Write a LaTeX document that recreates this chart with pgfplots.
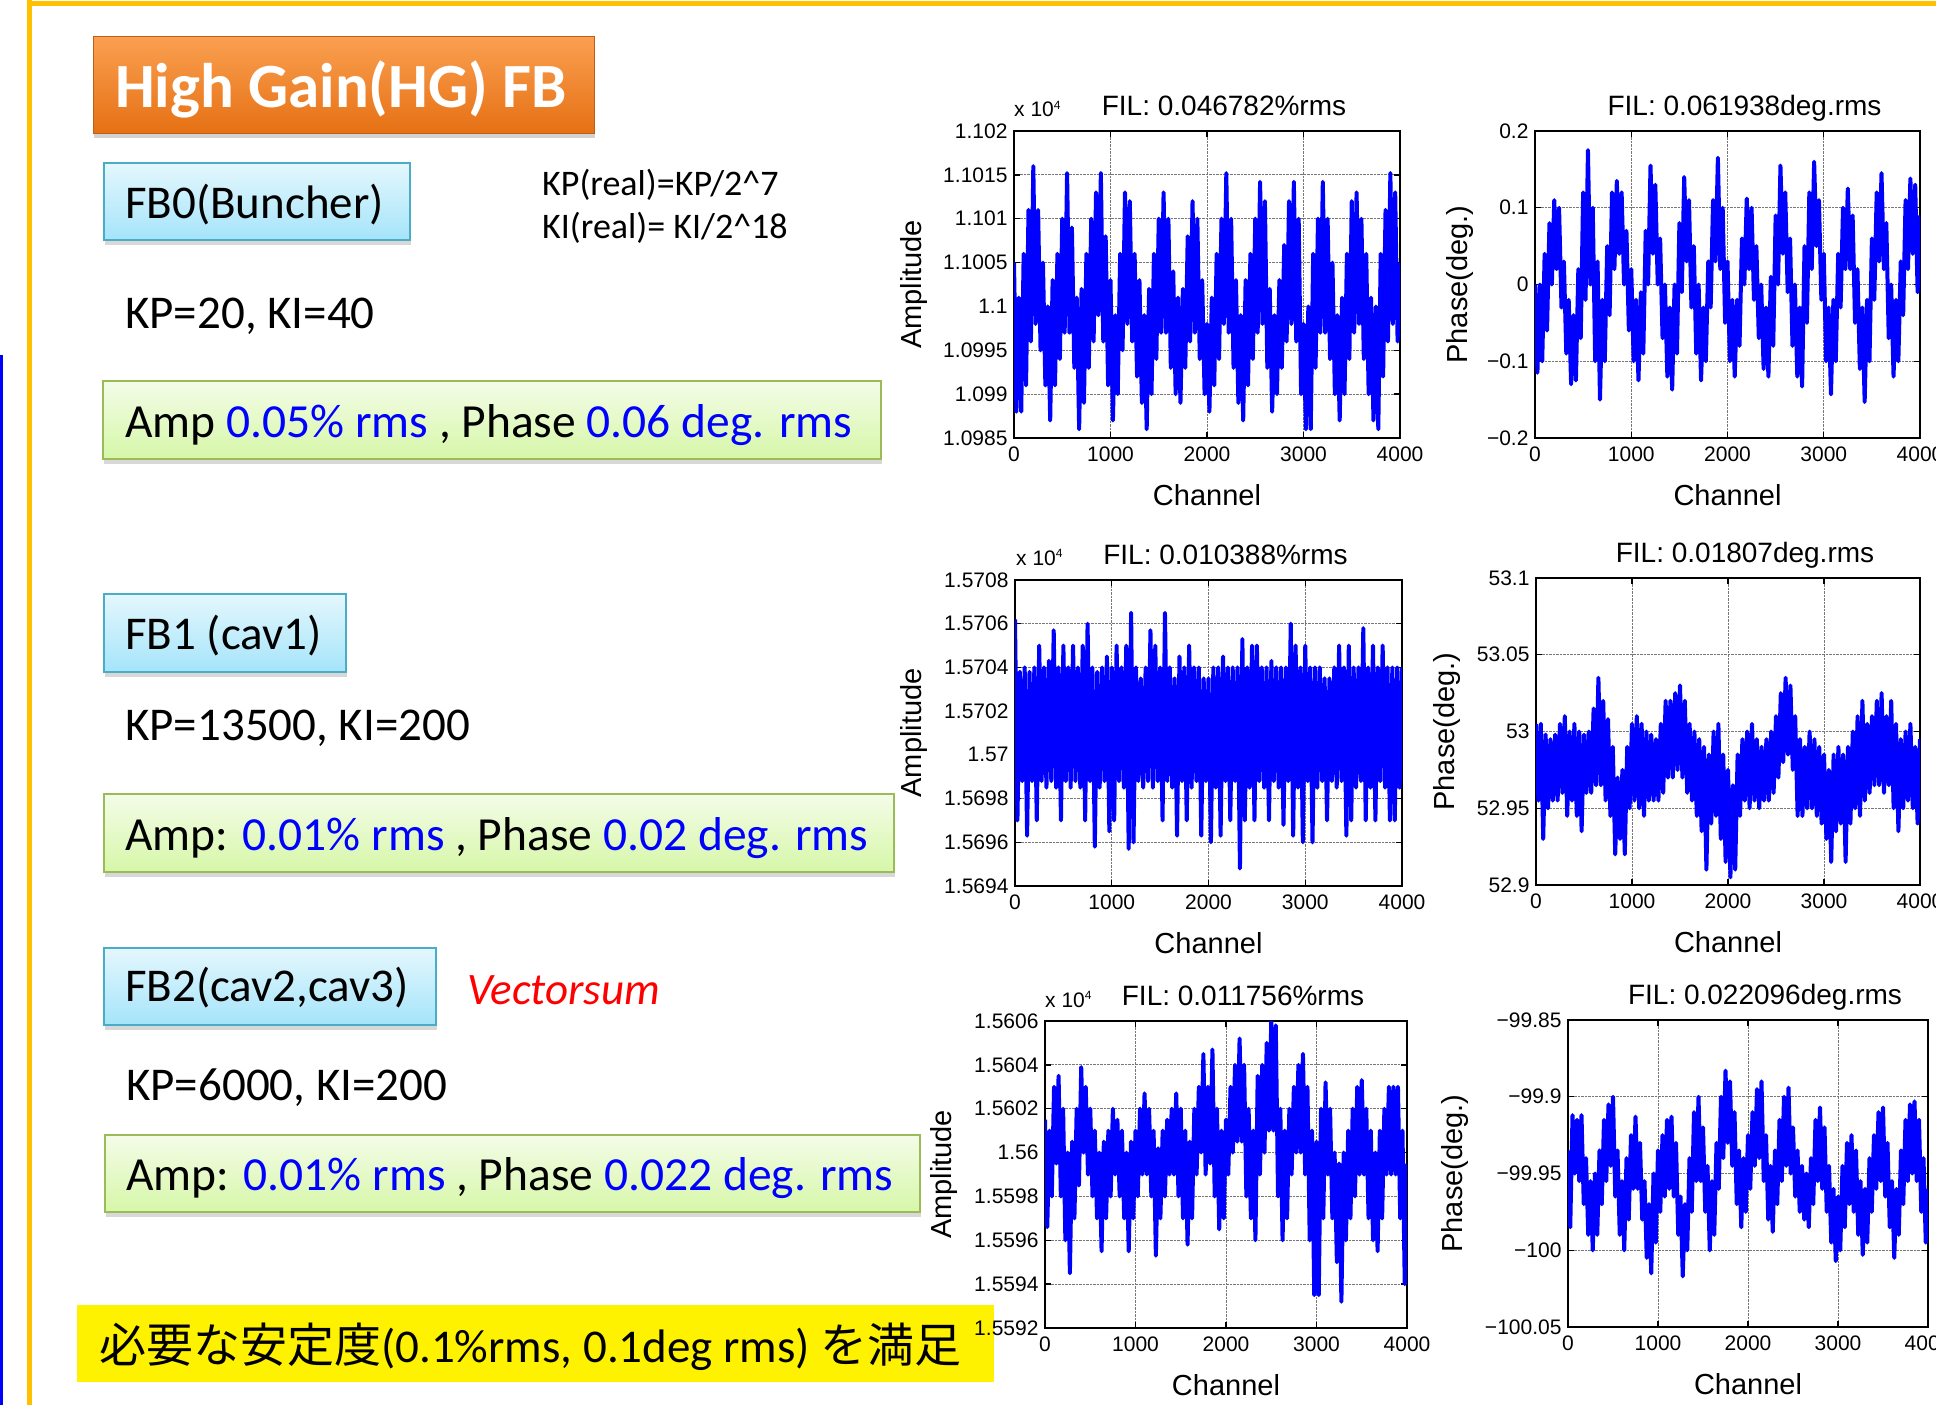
\documentclass[border=0pt]{standalone}
\usepackage{pgfplots}
\pgfplotsset{compat=1.18}
\usepackage{fontspec}
\setmainfont{Carlito}
\newfontfamily\arialf{Liberation Sans}
\newfontfamily\jpf{Noto Sans CJK JP}
\usetikzlibrary{shadows}
\definecolor{frameorange}{RGB}{255,192,0}
\definecolor{ttop}{RGB}{250,160,80}
\definecolor{tbot}{RGB}{230,112,20}
\definecolor{tborder}{RGB}{190,95,25}
\definecolor{ctop}{RGB}{228,247,253}
\definecolor{cbot}{RGB}{165,228,250}
\definecolor{cborder}{RGB}{75,172,198}
\definecolor{gtop}{RGB}{244,252,232}
\definecolor{gbot}{RGB}{214,247,168}
\definecolor{gborder}{RGB}{155,187,89}
\definecolor{valblue}{RGB}{0,0,255}
\definecolor{gridgray}{RGB}{120,120,120}
\newcommand{\tickf}{\arialf\fontsize{21}{25}\selectfont}
\newcommand{\labf}{\arialf\fontsize{29}{33}\selectfont}
\newcommand{\titf}{\arialf\fontsize{28}{32}\selectfont}
\pgfplotsset{
  sig/.style={color=valblue, line width=4pt, line join=round, line cap=butt, mark=none},
  mat/.style={
    scale only axis, anchor=north west,
    xmin=0, xmax=4000, xtick={0,1000,2000,3000,4000},
    xticklabels={0,1000,2000,3000,4000},
    axis line style={line width=1.8pt},
    every tick/.style={black, line width=1.4pt},
    major tick length=6pt,
    tick align=inside,
    xmajorgrids, ymajorgrids,
    major grid style={densely dotted, gridgray, line width=0.9pt},
    ticklabel style={font=\tickf},
    xticklabel style={yshift=-5pt},
    yticklabel style={xshift=-3pt},
    xlabel={Channel},
    label style={font=\labf},
    xlabel style={at={(axis description cs:0.5,0)}, anchor=base, yshift=-67pt},
    every axis title/.style={font=\titf, at={(axis description cs:0.5,1)}, anchor=base, yshift=16pt, xshift=17pt},
    no markers,
  }
}
\begin{document}
\begin{tikzpicture}
\useasboundingbox (0pt,0pt) rectangle (1936pt,-1405pt);
\begin{scope}[x=1pt,y=-1pt]
\fill[white] (0,0) rectangle (1936,1405);
\fill[frameorange] (27,0) rectangle (32,1405);
\fill[frameorange] (27,1) rectangle (1936,6);
\fill[valblue] (0,355) rectangle (3,1405);
% title box
\path[drop shadow={shadow xshift=1pt, shadow yshift=-5pt, opacity=0.35}, top color=ttop, bottom color=tbot, draw=tborder, line width=1pt] (93,37) rectangle (594,133);
\node[anchor=base west, text=white, font=\bfseries\fontsize{63}{63}\selectfont, inner sep=0pt] at (115,107) {High Gain(HG) FB};
% cyan boxes
\path[drop shadow={shadow xshift=1pt, shadow yshift=-5pt, opacity=0.3}, top color=ctop, bottom color=cbot, draw=cborder, line width=1.5pt] (104,163) rectangle (410,240);
\node[anchor=base west, font=\fontsize{47}{47}\selectfont, inner sep=0pt] at (125,218) {FB0(Buncher)};
\path[drop shadow={shadow xshift=1pt, shadow yshift=-5pt, opacity=0.3}, top color=ctop, bottom color=cbot, draw=cborder, line width=1.5pt] (104,594) rectangle (346,672);
\node[anchor=base west, font=\fontsize{47}{47}\selectfont, inner sep=0pt] at (125,649) {FB1 (cav1)};
\path[drop shadow={shadow xshift=1pt, shadow yshift=-5pt, opacity=0.3}, top color=ctop, bottom color=cbot, draw=cborder, line width=1.5pt] (104,948) rectangle (436,1025);
\node[anchor=base west, font=\fontsize{47}{47}\selectfont, inner sep=0pt] at (125,1001) {FB2(cav2,cav3)};
% KP texts
\node[anchor=base west, font=\fontsize{36}{36}\selectfont, inner sep=0pt] at (542,195) {KP(real)=KP/2\^{}7};
\node[anchor=base west, font=\fontsize{36}{36}\selectfont, inner sep=0pt] at (542,238) {KI(real)= KI/2\^{}18};
\node[anchor=base west, font=\fontsize{47}{47}\selectfont, inner sep=0pt] at (125,328) {KP=20, KI=40};
\node[anchor=base west, font=\fontsize{47}{47}\selectfont, inner sep=0pt] at (125,740) {KP=13500, KI=200};
\node[anchor=base west, font=\fontsize{47}{47}\selectfont, inner sep=0pt] at (126,1100) {KP=6000, KI=200};
\node[anchor=base west, text=red, font=\itshape\fontsize{45}{45}\selectfont, inner sep=0pt] at (467,1004) {Vectorsum};
% green boxes
\path[drop shadow={shadow xshift=1pt, shadow yshift=-5pt, opacity=0.3}, top color=gtop, bottom color=gbot, draw=gborder, line width=1.5pt] (103,381) rectangle (881,459);
\node[anchor=base west, font=\fontsize{47.5}{47.5}\selectfont, inner sep=0pt] at (125,437) {Amp {\color{valblue}0.05\% rms} , Phase {\color{valblue}0.06 deg. rms}};
\path[drop shadow={shadow xshift=1pt, shadow yshift=-5pt, opacity=0.3}, top color=gtop, bottom color=gbot, draw=gborder, line width=1.5pt] (104,794) rectangle (894,872);
\node[anchor=base west, font=\fontsize{47.5}{47.5}\selectfont, inner sep=0pt] at (125,850) {Amp: {\color{valblue}0.01\% rms} , Phase {\color{valblue}0.02 deg. rms}};
\path[drop shadow={shadow xshift=1pt, shadow yshift=-5pt, opacity=0.3}, top color=gtop, bottom color=gbot, draw=gborder, line width=1.5pt] (105,1135) rectangle (920,1212);
\node[anchor=base west, font=\fontsize{47.5}{47.5}\selectfont, inner sep=0pt] at (126,1190) {Amp: {\color{valblue}0.01\% rms} , Phase {\color{valblue}0.022 deg. rms}};
% yellow box
\fill[yellow] (77,1305) rectangle (994,1382);
\node[anchor=base west, font=\fontsize{47}{47}\selectfont, inner sep=0pt] at (99,1362) {{\jpf 必要な安定度}(0.1\%rms, 0.1deg rms) {\jpf を満足}};
\end{scope}

% ---------- Plot 1 ----------
\begin{axis}[mat, name=p1, at={(1014pt,-131pt)}, width=386pt, height=307pt,
  ymin=1.0985, ymax=1.102,
  ytick={1.0985,1.099,1.0995,1.1,1.1005,1.101,1.1015,1.102},
  yticklabels={1.0985,1.099,1.0995,1.1,1.1005,1.101,1.1015,1.102},
  ylabel={Amplitude}, ylabel style={at={(axis description cs:-0.26,0.5)}, anchor=center},
  title={FIL: 0.046782\%rms}]
\addplot[sig] coordinates {(0,1.1005)(25,1.0988)(50,1.1001)(75,1.0988)(100,1.1006)(125,1.0991)(150,1.1011)(175,1.0996)(200,1.1016)(225,1.0998)(250,1.1011)(275,1.0995)(300,1.1005)(325,1.0991)(350,1.1000)(375,1.0987)(400,1.1003)(425,1.0991)(450,1.1006)(475,1.0994)(500,1.1010)(525,1.0997)(550,1.10152)(575,1.0997)(600,1.1009)(625,1.0993)(650,1.1001)(675,1.0986)(700,1.1002)(725,1.0989)(750,1.1006)(775,1.0993)(800,1.1010)(825,1.0996)(850,1.1013)(875,1.0999)(900,1.10152)(925,1.0996)(950,1.1008)(975,1.0991)(1000,1.1003)(1025,1.0987)(1050,1.0999)(1075,1.0990)(1100,1.1006)(1125,1.0995)(1150,1.1013)(1175,1.0998)(1200,1.1012)(1225,1.0996)(1250,1.1006)(1275,1.0992)(1300,1.1003)(1325,1.0989)(1350,1.0999)(1375,1.0986)(1400,1.1002)(1425,1.0990)(1450,1.1006)(1475,1.0994)(1500,1.1010)(1525,1.0997)(1550,1.1013)(1575,1.0997)(1600,1.1010)(1625,1.0993)(1650,1.1004)(1675,1.0990)(1700,1.1001)(1725,1.0989)(1750,1.1002)(1775,1.0993)(1800,1.1008)(1825,1.0996)(1850,1.1012)(1875,1.0997)(1900,1.1010)(1925,1.0994)(1950,1.1003)(1975,1.0990)(2000,1.0998)(2025,1.0988)(2050,1.1001)(2075,1.0991)(2100,1.1006)(2125,1.0994)(2150,1.1010)(2175,1.0998)(2200,1.10152)(2225,1.0997)(2250,1.1010)(2275,1.0993)(2300,1.1003)(2325,1.0989)(2350,1.0999)(2375,1.0987)(2400,1.1003)(2425,1.0991)(2450,1.1006)(2475,1.0994)(2500,1.1010)(2525,1.0997)(2550,1.10142)(2575,1.0998)(2600,1.1012)(2625,1.0993)(2650,1.1002)(2675,1.0988)(2700,1.0999)(2725,1.0990)(2750,1.1003)(2775,1.0993)(2800,1.1007)(2825,1.0996)(2850,1.1012)(2875,1.0998)(2900,1.10142)(2925,1.0996)(2950,1.1010)(2975,1.0990)(3000,1.0998)(3025,1.0986)(3050,1.1000)(3075,1.0986)(3100,1.1006)(3125,1.0993)(3150,1.1010)(3175,1.0997)(3200,1.10142)(3225,1.0997)(3250,1.1010)(3275,1.0994)(3300,1.1005)(3325,1.0990)(3350,1.0999)(3375,1.0987)(3400,1.1001)(3425,1.0990)(3450,1.1006)(3475,1.0994)(3500,1.1012)(3525,1.0997)(3550,1.1013)(3575,1.0998)(3600,1.1010)(3625,1.0994)(3650,1.1006)(3675,1.0990)(3700,1.1001)(3725,1.0987)(3750,1.1000)(3775,1.0986)(3800,1.1006)(3825,1.0992)(3850,1.1011)(3875,1.0996)(3900,1.10152)(3925,1.0998)(3950,1.1013)(3975,1.0996)(4000,1.1005)};
\end{axis}

% ---------- Plot 2 ----------
\begin{axis}[mat, name=p2, at={(1535pt,-131pt)}, width=385pt, height=307pt,
  ymin=-0.2, ymax=0.2,
  ytick={-0.2,-0.1,0,0.1,0.2},
  yticklabels={−0.2,−0.1,0,0.1,0.2},
  ylabel={Phase(deg.)}, ylabel style={at={(axis description cs:-0.195,0.5)}, anchor=center},
  title={FIL: 0.061938deg.rms}]
\addplot[sig] coordinates {(0,0.0)(25,-0.115)(50,0.0)(75,-0.10)(100,0.04)(125,-0.06)(150,0.08)(175,0.0)(200,0.11)(225,0.02)(250,0.10)(275,-0.03)(300,0.03)(325,-0.09)(350,-0.02)(375,-0.13)(400,-0.04)(425,-0.125)(450,0.02)(475,-0.07)(500,0.12)(525,-0.02)(550,0.175)(575,0.0)(600,0.10)(625,-0.10)(650,0.03)(675,-0.15)(700,-0.02)(725,-0.10)(750,0.05)(775,-0.04)(800,0.12)(825,0.02)(850,0.135)(875,0.04)(900,0.12)(925,0.0)(950,0.07)(975,-0.06)(1000,0.02)(1025,-0.10)(1050,-0.02)(1075,-0.125)(1100,-0.01)(1125,-0.09)(1150,0.07)(1175,0.0)(1200,0.155)(1225,0.04)(1250,0.13)(1275,0.0)(1300,0.06)(1325,-0.07)(1350,0.0)(1375,-0.12)(1400,-0.03)(1425,-0.137)(1450,0.0)(1475,-0.09)(1500,0.08)(1525,-0.01)(1550,0.14)(1575,0.03)(1600,0.11)(1625,-0.03)(1650,0.05)(1675,-0.09)(1700,0.0)(1725,-0.125)(1750,-0.03)(1775,-0.10)(1800,0.03)(1825,-0.03)(1850,0.11)(1875,0.03)(1900,0.165)(1925,0.02)(1950,0.10)(1975,-0.05)(2000,0.03)(2025,-0.10)(2050,-0.02)(2075,-0.12)(2100,-0.02)(2125,-0.08)(2150,0.06)(2175,0.0)(2200,0.112)(2225,0.02)(2250,0.10)(2275,-0.02)(2300,0.05)(2325,-0.07)(2350,0.0)(2375,-0.11)(2400,-0.03)(2425,-0.12)(2450,0.01)(2475,-0.08)(2500,0.09)(2525,0.0)(2550,0.155)(2575,0.04)(2600,0.12)(2625,-0.01)(2650,0.06)(2675,-0.08)(2700,0.0)(2725,-0.12)(2750,-0.03)(2775,-0.133)(2800,0.05)(2825,-0.05)(2850,0.12)(2875,0.02)(2900,0.16)(2925,0.05)(2950,0.11)(2975,-0.02)(3000,0.04)(3025,-0.10)(3050,-0.03)(3075,-0.143)(3100,-0.02)(3125,-0.10)(3150,0.04)(3175,-0.03)(3200,0.10)(3225,0.02)(3250,0.125)(3275,0.02)(3300,0.09)(3325,-0.05)(3350,0.02)(3375,-0.11)(3400,-0.03)(3425,-0.153)(3450,-0.02)(3475,-0.10)(3500,0.06)(3525,-0.02)(3550,0.12)(3575,0.03)(3600,0.145)(3625,0.02)(3650,0.08)(3675,-0.07)(3700,0.0)(3725,-0.12)(3750,-0.02)(3775,-0.10)(3800,0.03)(3825,-0.04)(3850,0.11)(3875,0.02)(3900,0.138)(3925,0.04)(3950,0.13)(3975,-0.01)(4000,0.09)};
\end{axis}

% ---------- Plot 3 ----------
\begin{axis}[mat, name=p3, at={(1015pt,-580pt)}, width=387pt, height=306pt,
  ymin=1.5694, ymax=1.5708,
  ytick={1.5694,1.5696,1.5698,1.57,1.5702,1.5704,1.5706,1.5708},
  yticklabels={1.5694,1.5696,1.5698,1.57,1.5702,1.5704,1.5706,1.5708},
  ylabel={Amplitude}, ylabel style={at={(axis description cs:-0.262,0.5)}, anchor=center},
  title={FIL: 0.010388\%rms}]
\addplot[sig] coordinates {(0,1.57062)(25,1.5697)(50,1.57038)(75,1.56988)(100,1.5704)(125,1.56963)(150,1.57038)(175,1.56988)(200,1.5704)(225,1.5697)(250,1.5705)(275,1.56988)(300,1.5704)(325,1.56985)(350,1.57043)(375,1.56988)(400,1.57057)(425,1.56985)(450,1.5704)(475,1.5697)(500,1.5705)(525,1.56988)(550,1.5704)(575,1.56985)(600,1.5705)(625,1.56988)(650,1.5704)(675,1.56985)(700,1.5705)(725,1.5697)(750,1.5706)(775,1.56988)(800,1.5704)(825,1.56958)(850,1.57038)(875,1.56985)(900,1.5704)(925,1.56988)(950,1.57045)(975,1.56965)(1000,1.5704)(1025,1.5697)(1050,1.5705)(1075,1.56988)(1100,1.5704)(1125,1.56985)(1150,1.5705)(1175,1.56957)(1200,1.57065)(1225,1.5696)(1250,1.5704)(1275,1.56988)(1300,1.57035)(1325,1.56985)(1350,1.5704)(1375,1.56988)(1400,1.57057)(1425,1.56985)(1450,1.5705)(1475,1.56988)(1500,1.5704)(1525,1.5697)(1550,1.57065)(1575,1.56988)(1600,1.5704)(1625,1.56985)(1650,1.57035)(1675,1.56963)(1700,1.57045)(1725,1.56988)(1750,1.5704)(1775,1.5697)(1800,1.5705)(1825,1.56985)(1850,1.5704)(1875,1.56988)(1900,1.5704)(1925,1.56963)(1950,1.57035)(1975,1.56988)(2000,1.57035)(2025,1.5696)(2050,1.5704)(2075,1.56985)(2100,1.5704)(2125,1.56963)(2150,1.57045)(2175,1.56988)(2200,1.5704)(2225,1.5697)(2250,1.5704)(2275,1.56988)(2300,1.5704)(2325,1.56948)(2350,1.57053)(2375,1.5697)(2400,1.5704)(2425,1.56985)(2450,1.5705)(2475,1.5697)(2500,1.5705)(2525,1.56988)(2550,1.5704)(2575,1.56985)(2600,1.5704)(2625,1.5697)(2650,1.57043)(2675,1.56988)(2700,1.5704)(2725,1.56985)(2750,1.5704)(2775,1.56968)(2800,1.5704)(2825,1.56988)(2850,1.5706)(2875,1.56963)(2900,1.5705)(2925,1.56985)(2950,1.5704)(2975,1.5696)(3000,1.5705)(3025,1.56988)(3050,1.5704)(3075,1.5696)(3100,1.5704)(3125,1.56985)(3150,1.5704)(3175,1.56988)(3200,1.57035)(3225,1.5697)(3250,1.57035)(3275,1.56988)(3300,1.5704)(3325,1.56985)(3350,1.5705)(3375,1.56988)(3400,1.5704)(3425,1.56963)(3450,1.5705)(3475,1.5697)(3500,1.5704)(3525,1.56985)(3550,1.5704)(3575,1.56988)(3600,1.57058)(3625,1.5697)(3650,1.5704)(3675,1.56985)(3700,1.5705)(3725,1.5697)(3750,1.5704)(3775,1.56988)(3800,1.5705)(3825,1.56985)(3850,1.5704)(3875,1.5697)(3900,1.5704)(3925,1.5697)(3950,1.5704)(3975,1.56985)(4000,1.5704)};
\end{axis}

% ---------- Plot 4 ----------
\begin{axis}[mat, name=p4, at={(1536pt,-578pt)}, width=384pt, height=307pt,
  ymin=52.9, ymax=53.1,
  ytick={52.9,52.95,53,53.05,53.1},
  yticklabels={52.9,52.95,53,53.05,53.1},
  ylabel={Phase(deg.)}, ylabel style={at={(axis description cs:-0.232,0.5)}, anchor=center},
  title={FIL: 0.01807deg.rms}]
\addplot[sig] coordinates {(0,53.005)(25,52.955)(50,53.005)(75,52.93)(100,52.998)(125,52.95)(150,52.995)(175,52.955)(200,52.998)(225,52.955)(250,53.005)(275,52.96)(300,53.01)(325,52.945)(350,53.0)(375,52.955)(400,53.005)(425,52.945)(450,53.0)(475,52.935)(500,52.998)(525,52.96)(550,53.0)(575,52.96)(600,53.015)(625,52.965)(650,53.035)(675,52.965)(700,53.02)(725,52.955)(750,53.008)(775,52.945)(800,52.99)(825,52.92)(850,52.97)(875,52.93)(900,52.975)(925,52.92)(950,52.99)(975,52.95)(1000,53.005)(1025,52.955)(1050,53.01)(1075,52.95)(1100,53.005)(1125,52.945)(1150,53.0)(1175,52.955)(1200,52.998)(1225,52.955)(1250,52.995)(1275,52.955)(1300,53.005)(1325,52.96)(1350,53.02)(1375,52.97)(1400,53.02)(1425,52.97)(1450,53.025)(1475,52.975)(1500,53.03)(1525,52.97)(1550,53.02)(1575,52.96)(1600,53.005)(1625,52.955)(1650,53.0)(1675,52.945)(1700,52.995)(1725,52.935)(1750,52.99)(1775,52.91)(1800,52.985)(1825,52.94)(1850,53.0)(1875,52.945)(1900,53.005)(1925,52.93)(1950,52.985)(1975,52.915)(2000,52.975)(2025,52.905)(2050,52.965)(2075,52.91)(2100,52.985)(2125,52.945)(2150,52.995)(2175,52.955)(2200,53.0)(2225,52.95)(2250,53.005)(2275,52.955)(2300,52.995)(2325,52.95)(2350,52.99)(2375,52.955)(2400,52.995)(2425,52.955)(2450,53.0)(2475,52.96)(2500,53.01)(2525,52.97)(2550,53.025)(2575,52.98)(2600,53.035)(2625,52.985)(2650,53.03)(2675,52.975)(2700,53.01)(2725,52.945)(2750,52.995)(2775,52.945)(2800,52.99)(2825,52.95)(2850,53.0)(2875,52.95)(2900,52.995)(2925,52.945)(2950,52.99)(2975,52.94)(3000,52.985)(3025,52.93)(3050,52.975)(3075,52.915)(3100,52.985)(3125,52.935)(3150,52.99)(3175,52.94)(3200,52.985)(3225,52.915)(3250,52.99)(3275,52.94)(3300,53.0)(3325,52.95)(3350,53.01)(3375,52.945)(3400,53.02)(3425,52.955)(3450,53.005)(3475,52.96)(3500,53.01)(3525,52.965)(3550,53.02)(3575,52.965)(3600,53.025)(3625,52.96)(3650,53.01)(3675,52.965)(3700,53.02)(3725,52.95)(3750,53.005)(3775,52.935)(3800,52.995)(3825,52.95)(3850,53.0)(3875,52.955)(3900,53.005)(3925,52.95)(3950,52.99)(3975,52.94)(4000,52.995)};
\end{axis}

% ---------- Plot 5 ----------
\begin{axis}[mat, name=p5, at={(1045pt,-1021pt)}, width=362pt, height=307pt,
  ymin=1.5592, ymax=1.5606,
  ytick={1.5592,1.5594,1.5596,1.5598,1.56,1.5602,1.5604,1.5606},
  yticklabels={1.5592,1.5594,1.5596,1.5598,1.56,1.5602,1.5604,1.5606},
  ylabel={Amplitude}, ylabel style={at={(axis description cs:-0.279,0.5)}, anchor=center},
  title={FIL: 0.011756\%rms}]
\addplot[sig] coordinates {(0,1.56015)(25,1.55966)(50,1.5601)(75,1.5598)(100,1.5603)(125,1.55995)(150,1.56035)(175,1.5598)(200,1.5602)(225,1.5596)(250,1.5600)(275,1.55945)(300,1.56005)(325,1.5597)(350,1.5602)(375,1.55985)(400,1.56039)(425,1.56)(450,1.5603)(475,1.5599)(500,1.5602)(525,1.5598)(550,1.5601)(575,1.5597)(600,1.5600)(625,1.55955)(650,1.56005)(675,1.5597)(700,1.5601)(725,1.5598)(750,1.5602)(775,1.5599)(800,1.56015)(825,1.5598)(850,1.5601)(875,1.5597)(900,1.5600)(925,1.55955)(950,1.56005)(975,1.5597)(1000,1.5601)(1025,1.5598)(1050,1.5602)(1075,1.5599)(1100,1.56027)(1125,1.5599)(1150,1.5602)(1175,1.5598)(1200,1.5601)(1225,1.55953)(1250,1.56002)(1275,1.5597)(1300,1.5601)(1325,1.5598)(1350,1.56015)(1375,1.5599)(1400,1.5602)(1425,1.5599)(1450,1.56027)(1475,1.5598)(1500,1.5602)(1525,1.5597)(1550,1.5601)(1575,1.55958)(1600,1.56005)(1625,1.5597)(1650,1.5602)(1675,1.5599)(1700,1.5603)(1725,1.5600)(1750,1.56045)(1775,1.5599)(1800,1.5603)(1825,1.55995)(1850,1.56047)(1875,1.5598)(1900,1.5602)(1925,1.55965)(1950,1.5601)(1975,1.5597)(2000,1.56015)(2025,1.5599)(2050,1.5603)(2075,1.56)(2100,1.5604)(2125,1.56005)(2150,1.56052)(2175,1.56005)(2200,1.5604)(2225,1.5598)(2250,1.5602)(2275,1.5597)(2300,1.5601)(2325,1.5596)(2350,1.56035)(2375,1.5599)(2400,1.5604)(2425,1.56)(2450,1.5605)(2475,1.5601)(2500,1.5606)(2525,1.5601)(2550,1.56058)(2575,1.5598)(2600,1.5602)(2625,1.5596)(2650,1.5601)(2675,1.5597)(2700,1.5602)(2725,1.5599)(2750,1.5603)(2775,1.56)(2800,1.5604)(2825,1.5600)(2850,1.56045)(2875,1.5599)(2900,1.5603)(2925,1.5596)(2950,1.5601)(2975,1.55935)(3000,1.56005)(3025,1.55935)(3050,1.5602)(3075,1.5597)(3100,1.56032)(3125,1.5599)(3150,1.5602)(3175,1.5597)(3200,1.5600)(3225,1.5595)(3250,1.55995)(3275,1.55932)(3300,1.5600)(3325,1.5596)(3350,1.5601)(3375,1.5597)(3400,1.5602)(3425,1.5598)(3450,1.5603)(3475,1.5599)(3500,1.56033)(3525,1.5599)(3550,1.5602)(3575,1.5597)(3600,1.5601)(3625,1.5596)(3650,1.56)(3675,1.55955)(3700,1.5601)(3725,1.5597)(3750,1.5602)(3775,1.5599)(3800,1.5603)(3825,1.5599)(3850,1.5603)(3875,1.5599)(3900,1.5603)(3925,1.5597)(3950,1.5601)(3975,1.5594)(4000,1.55995)};
\end{axis}

% ---------- Plot 6 ----------
\begin{axis}[mat, name=p6, at={(1568pt,-1020pt)}, width=360pt, height=307pt,
  ymin=-100.05, ymax=-99.85,
  ytick={-100.05,-100,-99.95,-99.9,-99.85},
  yticklabels={−100.05,−100,−99.95,−99.9,−99.85},
  ylabel={Phase(deg.)}, ylabel style={at={(axis description cs:-0.314,0.5)}, anchor=center},
  title={FIL: 0.022096deg.rms}]
\addplot[sig] coordinates {(0,-99.935)(25,-99.985)(50,-99.912)(75,-99.95)(100,-99.915)(125,-99.955)(150,-99.912)(175,-99.97)(200,-99.94)(225,-99.99)(250,-99.955)(275,-100.0)(300,-99.95)(325,-99.99)(350,-99.935)(375,-99.97)(400,-99.915)(425,-99.955)(450,-99.905)(475,-99.945)(500,-99.9)(525,-99.965)(550,-99.935)(575,-99.99)(600,-99.955)(625,-100.0)(650,-99.94)(675,-99.98)(700,-99.925)(725,-99.96)(750,-99.913)(775,-99.96)(800,-99.93)(825,-99.98)(850,-99.955)(875,-100.005)(900,-99.97)(925,-100.015)(950,-99.95)(975,-99.995)(1000,-99.935)(1025,-99.975)(1050,-99.925)(1075,-99.965)(1100,-99.915)(1125,-99.96)(1150,-99.913)(1175,-99.965)(1200,-99.93)(1225,-99.99)(1250,-99.965)(1275,-100.017)(1300,-99.97)(1325,-100.0)(1350,-99.94)(1375,-99.975)(1400,-99.91)(1425,-99.955)(1450,-99.9)(1475,-99.955)(1500,-99.92)(1525,-99.975)(1550,-99.945)(1575,-100.0)(1600,-99.955)(1625,-99.99)(1650,-99.93)(1675,-99.96)(1700,-99.9)(1725,-99.94)(1750,-99.883)(1775,-99.93)(1800,-99.89)(1825,-99.945)(1850,-99.91)(1875,-99.97)(1900,-99.935)(1925,-99.985)(1950,-99.94)(1975,-99.975)(2000,-99.925)(2025,-99.96)(2050,-99.91)(2075,-99.945)(2100,-99.895)(2125,-99.94)(2150,-99.89)(2175,-99.955)(2200,-99.925)(2225,-99.98)(2250,-99.945)(2275,-99.988)(2300,-99.935)(2325,-99.97)(2350,-99.915)(2375,-99.955)(2400,-99.9)(2425,-99.945)(2450,-99.894)(2475,-99.95)(2500,-99.92)(2525,-99.965)(2550,-99.935)(2575,-99.975)(2600,-99.945)(2625,-99.98)(2650,-99.95)(2675,-99.985)(2700,-99.94)(2725,-99.97)(2750,-99.915)(2775,-99.955)(2800,-99.907)(2825,-99.96)(2850,-99.92)(2875,-99.975)(2900,-99.945)(2925,-99.995)(2950,-99.96)(2975,-100.007)(3000,-99.965)(3025,-100.0)(3050,-99.945)(3075,-99.985)(3100,-99.93)(3125,-99.97)(3150,-99.925)(3175,-99.975)(3200,-99.935)(3225,-99.99)(3250,-99.955)(3275,-100.003)(3300,-99.96)(3325,-99.995)(3350,-99.94)(3375,-99.975)(3400,-99.925)(3425,-99.96)(3450,-99.91)(3475,-99.955)(3500,-99.907)(3525,-99.965)(3550,-99.93)(3575,-99.985)(3600,-99.955)(3625,-100.005)(3650,-99.96)(3675,-99.99)(3700,-99.935)(3725,-99.97)(3750,-99.915)(3775,-99.955)(3800,-99.905)(3825,-99.95)(3850,-99.903)(3875,-99.955)(3900,-99.915)(3925,-99.975)(3950,-99.94)(3975,-99.995)(4000,-99.96)};
\end{axis}

\begin{scope}[x=1pt,y=-1pt]
\node[anchor=base west, inner sep=0pt, font=\tickf] at (1014,117) {x 10\raisebox{8pt}{\arialf\fontsize{12}{12}\selectfont 4}};
\node[anchor=base west, inner sep=0pt, font=\tickf] at (1016,565) {x 10\raisebox{8pt}{\arialf\fontsize{12}{12}\selectfont 4}};
\node[anchor=base west, inner sep=0pt, font=\tickf] at (1045,1007) {x 10\raisebox{8pt}{\arialf\fontsize{12}{12}\selectfont 4}};
\end{scope}
\end{tikzpicture}
\end{document}
